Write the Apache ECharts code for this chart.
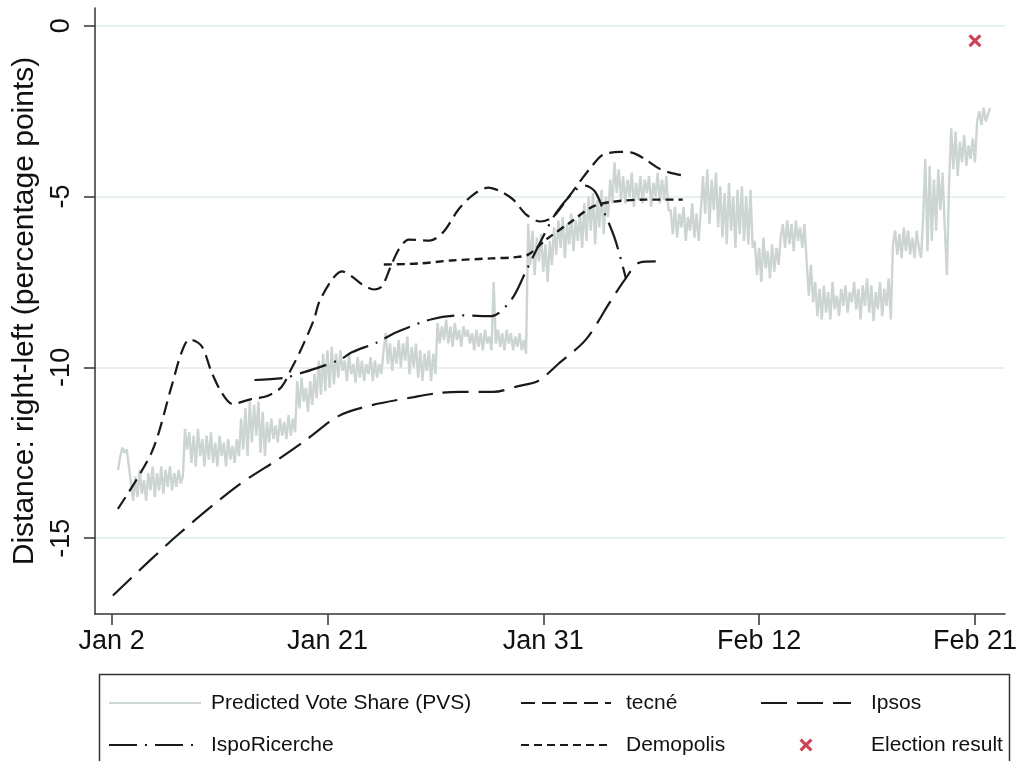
<!DOCTYPE html>
<html>
<head>
<meta charset="utf-8">
<script src="https://cdn.jsdelivr.net/npm/echarts@6/dist/echarts.min.js"></script>
<style>
  html, body { margin: 0; padding: 0; background: #fff; }
  #chart { width: 1020px; height: 761px; }
</style>
</head>
<body>
<div id="chart"></div>
<script>
// x runs on a campaign index: 100 units between consecutive labelled dates
const xTickValues = [0, 100, 200, 300, 400];
const xTickLabels = ['Jan 2', 'Jan 21', 'Jan 31', 'Feb 12', 'Feb 21'];
const yTickValues = [-15, -10, -5, 0];

// Predicted Vote Share: one reading per index unit, from index 3 to 407
const pvsFirst = 3;
const pvsValues = [
  // 3-8
  -13.0, -12.6, -12.35, -12.5, -12.4, -12.9,
  // 9-33
  -13.4, -13.9, -13.2, -13.8, -13.0, -13.7, -13.3, -13.9, -13.1, -13.6, -12.9, -13.8, -13.1,
  -13.6, -12.9, -13.7, -13.0, -13.5, -12.9, -13.6, -13.1, -13.5, -13.0, -13.4, -13.2,
  // 34-59
  -11.8, -12.4, -11.9, -12.8, -12.0, -12.9, -11.8, -12.6, -12.1, -12.9, -12.0, -12.7, -11.9,
  -12.8, -12.2, -12.9, -12.0, -12.6, -12.2, -12.9, -12.1, -12.7, -12.3, -12.8, -12.1, -12.6,
  // 60-71
  -11.5, -12.4, -11.2, -12.6, -11.0, -12.2, -11.1, -12.0, -11.0, -12.5, -11.3, -12.6,
  // 72-85
  -11.6, -12.2, -11.5, -12.1, -11.7, -12.2, -11.5, -12.0, -11.6, -12.1, -11.4, -12.0, -11.5, -11.9,
  // 86-103
  -10.4, -11.2, -10.3, -11.0, -10.6, -11.3, -10.4, -11.1, -10.2, -10.9, -9.8, -10.8, -9.6,
  -10.7, -9.5, -10.6, -9.4, -10.5,
  // 104-125
  -9.6, -10.3, -9.5, -10.1, -9.8, -10.4, -9.6, -10.2, -9.9, -10.45, -9.7, -10.3, -9.8, -10.4,
  -9.9, -10.2, -9.7, -10.4, -9.8, -10.3, -9.9, -10.2,
  // 126-150
  -9.5, -9.0, -9.9, -9.3, -10.1, -9.4, -9.9, -9.2, -10.0, -9.3, -9.8, -9.1, -10.2, -9.4,
  -10.0, -9.3, -10.3, -9.5, -10.4, -9.6, -10.1, -9.5, -10.4, -9.6, -10.2,
  // 151-166
  -8.7, -9.3, -8.8, -9.2, -8.6, -9.3, -8.8, -9.4, -8.7, -9.2, -8.9, -9.4, -8.8, -9.1, -8.9, -9.3,
  // 167-192
  -9.0, -9.5, -8.9, -9.4, -9.0, -9.5, -8.9, -9.3, -9.1, -9.5, -7.5, -9.3, -8.9, -9.4, -9.0,
  -9.5, -8.9, -9.3, -9.0, -9.5, -9.1, -9.4, -9.0, -9.5, -9.2, -9.6,
  // 193-204
  -5.8, -7.0, -6.0, -7.3, -6.2, -6.9, -6.1, -7.2, -6.4, -7.5, -6.3, -7.0,
  // 205-218
  -5.9, -6.7, -5.7, -6.5, -5.6, -6.8, -5.8, -6.4, -5.5, -6.6, -5.7, -6.3, -5.5, -6.5,
  // 219-230
  -5.2, -6.3, -5.0, -6.0, -4.9, -6.4, -5.1, -5.9, -4.8, -6.1, -5.0, -5.6,
  // 231-236
  -4.5, -5.2, -4.0, -4.9, -4.2, -5.1,
  // 237-258
  -4.4, -5.2, -4.5, -5.0, -4.3, -5.3, -4.6, -5.1, -4.4, -5.2, -4.5, -4.9, -4.4, -5.3, -4.6,
  -5.0, -4.3, -5.2, -4.5, -5.1, -4.4, -5.4,
  // 259-273
  -5.4, -6.1, -5.3, -6.2, -5.5, -5.9, -5.3, -6.3, -5.6, -6.0, -5.2, -6.2, -5.5, -6.3, -5.4,
  // 274-281
  -4.4, -5.5, -4.2, -5.8, -4.5, -5.4, -4.3, -5.9,
  // 282-297
  -4.7, -6.2, -4.9, -6.4, -4.6, -6.0, -5.0, -6.5, -4.8, -6.1, -4.7, -6.3, -5.0, -6.4, -4.8, -6.5,
  // 298-309
  -6.3, -7.3, -6.5, -7.5, -6.2, -7.1, -6.6, -7.4, -6.4, -7.2, -6.5, -7.0,
  // 310-321
  -6.2, -5.8, -6.5, -5.7, -6.4, -5.8, -6.6, -5.7, -6.3, -5.9, -6.5, -5.8,
  // 322-361
  -6.9, -7.9, -7.0, -8.1, -7.5, -8.5, -7.7, -8.6, -7.6, -8.4, -7.8, -8.6, -7.5, -8.3, -7.9,
  -8.5, -7.7, -8.2, -7.6, -8.4, -7.8, -8.1, -7.5, -8.3, -7.7, -8.6, -7.6, -8.2, -7.4, -8.4,
  -7.6, -8.65, -7.8, -8.3, -7.5, -8.5, -7.7, -8.2, -7.4, -8.6,
  // 362-375
  -6.4, -6.0, -6.7, -6.1, -6.8, -5.9, -6.6, -6.0, -6.7, -6.2, -6.8, -6.0, -6.5, -6.8,
  // 376-388
  -5.6, -3.9, -6.6, -4.1, -6.3, -4.5, -6.0, -4.2, -5.4, -4.3, -5.9, -7.3, -4.6,
  // 389-401
  -3.0, -4.2, -3.1, -4.4, -3.4, -4.0, -3.2, -4.1, -3.5, -3.9, -3.3, -4.0, -2.8,
  // 402-407
  -2.5, -2.9, -2.4, -2.8, -2.6, -2.4
];

// Smoothed poll trends: [index, distance]
const tecne = [
  [2.9, -14.14], [18.6, -12.48], [27.8, -10.55], [32.4, -9.56], [36.1, -9.18],
  [41.7, -9.38], [46.3, -10.14], [50.9, -10.73], [56.0, -11.07], [64.7, -10.93],
  [72.1, -10.84], [78.6, -10.58], [83.2, -10.05], [87.8, -9.47], [93.8, -8.59],
  [96.1, -8.10], [102.1, -7.43], [106.7, -7.19], [111.3, -7.34], [116.0, -7.57],
  [121.5, -7.72], [125.2, -7.63], [129.3, -7.05], [133.0, -6.55], [137.7, -6.26],
  [147.4, -6.29], [153.8, -6.03], [160.7, -5.38], [167.6, -4.94], [174.5, -4.74],
  [180.5, -4.86], [186.1, -5.09], [192.1, -5.53], [198.6, -5.73], [204.6, -5.59],
  [211.5, -5.03], [217.0, -4.56], [223.0, -4.07], [227.6, -3.78], [235.5, -3.69],
  [241.5, -3.72], [247.5, -3.92], [253.1, -4.16], [258.6, -4.30], [265.5, -4.39]
];
const ipsos = [
  [0.6, -16.68], [30.2, -14.93], [58.3, -13.47], [77.7, -12.67], [90.6, -12.10],
  [105.3, -11.42], [121.0, -11.10], [140.0, -10.87], [151.5, -10.75], [161.7, -10.72],
  [176.9, -10.72], [188.4, -10.55], [197.6, -10.40], [206.8, -9.91], [219.8, -9.18],
  [230.8, -8.10], [237.8, -7.43], [244.7, -6.93], [252.1, -6.90]
];
const ispoRicerche = [
  [66.2, -10.37], [80.0, -10.31], [89.2, -10.14], [96.1, -10.00], [106.3, -9.76],
  [111.3, -9.56], [122.9, -9.27], [131.7, -8.98], [148.3, -8.59], [162.2, -8.48],
  [176.0, -8.50], [185.3, -8.01], [191.7, -7.22], [198.6, -6.34], [206.0, -5.47],
  [215.2, -4.80], [219.4, -4.68], [224.0, -4.86], [227.7, -5.38], [233.3, -6.26],
  [238.3, -7.40]
];
const demopolis = [
  [126.1, -6.99], [142.3, -6.96], [157.5, -6.87], [176.0, -6.81], [186.1, -6.78],
  [193.0, -6.70], [201.3, -6.26], [212.4, -5.76], [223.0, -5.29], [232.2, -5.15],
  [247.5, -5.09], [264.6, -5.09]
];
const electionResult = [[400, -0.44]];

const pvsSeries = pvsValues.map((v, i) => [pvsFirst + i, v]);

const ink = '#1a1a1a';
const crossPath = 'path://M1.7,0 L5,3.3 L8.3,0 L10,1.7 L6.7,5 L10,8.3 L8.3,10 L5,6.7 L1.7,10 L0,8.3 L3.3,5 L0,1.7 Z';
const font = 'Liberation Sans, Arial, Helvetica, sans-serif';

function trend(name, data, dash, width) {
  return {
    name: name, type: 'line', data: data, smooth: 0.3, symbol: 'none',
    lineStyle: { color: ink, width: width, type: dash }, itemStyle: { color: ink },
    z: 3, silent: true
  };
}

// legend entry for a line: the line sample only, no marker
function lineEntry(name) {
  return { name: name, itemStyle: { opacity: 0 } };
}

function legendColumn(left, width, textGap, entries) {
  return {
    orient: 'vertical', left: left, top: 687, itemWidth: width, itemHeight: 13,
    itemGap: 20, selectedMode: false, data: entries,
    textStyle: { fontFamily: font, fontSize: 21, color: '#111', lineHeight: 22,
      padding: [0, 0, 0, textGap] }
  };
}

const chart = echarts.init(document.getElementById('chart'), null, { renderer: 'canvas' });
chart.setOption({
  animation: false,
  backgroundColor: '#ffffff',
  grid: { left: 95, right: 11, top: 8, bottom: 147, containLabel: false },
  xAxis: {
    type: 'value', min: -7.7, max: 413.9,
    axisLine: { show: true, onZero: false, lineStyle: { color: '#333', width: 1.5 } },
    axisTick: { show: true, length: 11, customValues: xTickValues, lineStyle: { color: '#333', width: 1.5 } },
    axisLabel: {
      customValues: xTickValues, margin: 14, fontFamily: font, fontSize: 27, color: '#111',
      formatter: v => xTickLabels[xTickValues.indexOf(v)]
    },
    splitLine: { show: false }
  },
  yAxis: {
    type: 'value', min: -17.22, max: 0.52,
    name: 'Distance: right-left (percentage points)', nameLocation: 'middle', nameGap: 54,
    nameTextStyle: { fontFamily: font, fontSize: 30, color: '#111' },
    axisLine: { show: true, onZero: false, lineStyle: { color: '#333', width: 1.5 } },
    axisTick: { show: true, length: 11, customValues: yTickValues, lineStyle: { color: '#333', width: 1.5 } },
    axisLabel: { customValues: yTickValues, rotate: 90, margin: 20, fontFamily: font, fontSize: 27, color: '#111' },
    splitLine: { show: true, lineStyle: { color: '#dfecef', width: 1.5 } }
  },
  legend: [
    legendColumn(103, 92, 5, [lineEntry('Predicted Vote Share (PVS)'), lineEntry('IspoRicerche')]),
    legendColumn(515, 90, 10, [lineEntry('tecné'), lineEntry('Demopolis')]),
    legendColumn(755, 90, 15, [lineEntry('Ipsos'), 'Election result'])
  ],
  graphic: [{
    type: 'rect', left: 97, top: 672, silent: true,
    shape: { width: 910, height: 100 },
    style: { fill: 'none', stroke: '#333', lineWidth: 1.5 }
  }],
  series: [
    {
      name: 'Predicted Vote Share (PVS)', type: 'line', data: pvsSeries, symbol: 'none',
      lineStyle: { color: '#ccd5d1', width: 2.4 }, itemStyle: { color: '#ccd5d1' }, z: 2, silent: true
    },
    trend('tecné', tecne, [14, 7], 2.2),
    trend('Ipsos', ipsos, [26, 10], 2.2),
    trend('IspoRicerche', ispoRicerche, [28, 8, 2, 8], 2.2),
    trend('Demopolis', demopolis, [8, 5], 2.4),
    {
      name: 'Election result', type: 'scatter', data: electionResult,
      symbol: crossPath, symbolSize: 13, itemStyle: { color: '#c0142c' }, z: 4, silent: true
    }
  ]
});
</script>
</body>
</html>
